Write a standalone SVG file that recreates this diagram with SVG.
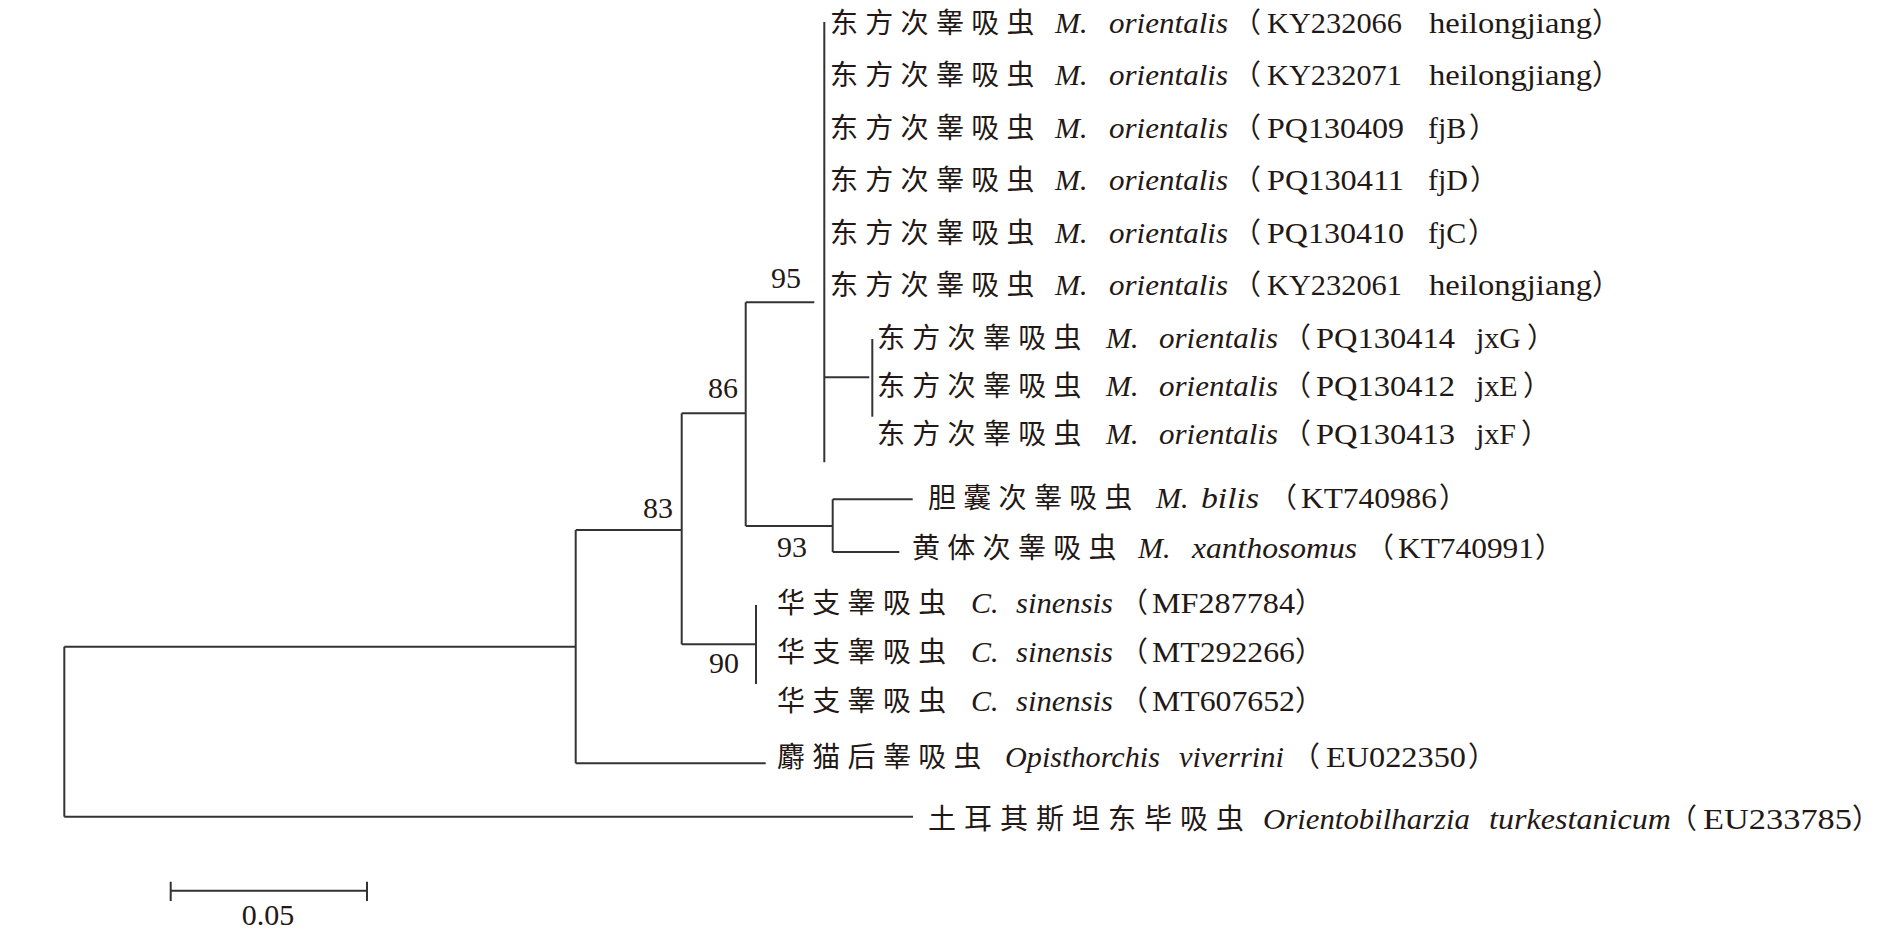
<svg xmlns="http://www.w3.org/2000/svg" width="1895" height="937" viewBox="0 0 1895 937">
<style>
.cn{font-family:"Noto Sans CJK SC","Noto Sans CJK TC",sans-serif;font-size:28px;letter-spacing:7.3px;fill:#231815}
.it{font-family:'Liberation Serif','Times New Roman',serif;font-style:italic;font-size:30px;fill:#231815}
.rm{font-family:'Liberation Serif','Times New Roman',serif;font-size:30px;fill:#231815}
.p{font-family:"Noto Sans CJK SC","Noto Sans CJK TC",sans-serif;font-size:28px;fill:#231815}
.bs{font-family:'Liberation Serif','Times New Roman',serif;font-size:30px;fill:#231815}
.br{stroke:#333;stroke-width:2;fill:none}
</style>
<rect width="1895" height="937" fill="#fff"/>
<g id="connectors" class="br">
<path d="M64.3,646.7V816.7"/>
<path d="M64.3,646.7H575.7"/>
<path d="M64.3,816.7H913"/>
<path d="M575.7,530V763.3"/>
<path d="M575.7,763.3H765.7"/>
<path d="M575.7,530H681.7"/>
<path d="M681.7,413.3V644.3"/>
<path d="M681.7,644.3H756"/>
<path d="M756,605V684"/>
<path d="M681.7,413.3H745.7"/>
<path d="M745.7,302.3V526"/>
<path d="M745.7,302.3H814.3"/>
<path d="M824.3,22V462.3"/>
<path d="M824.3,377.3H869.3"/>
<path d="M872.3,339V416.7"/>
<path d="M745.7,526H832.7"/>
<path d="M832.7,499.3V552"/>
<path d="M832.7,499.3H912.7"/>
<path d="M832.7,552H899.3"/>
</g>
<g id="bootstrap">
<text class="bs" x="771" y="288">95</text>
<text class="bs" x="708" y="398">86</text>
<text class="bs" x="643" y="518">83</text>
<text class="bs" x="777" y="557">93</text>
<text class="bs" x="709" y="673">90</text>
</g>
<g id="leaf-KY232066">
<text y="33"><tspan class="cn" x="830">东方次睾吸虫</tspan> <tspan class="it" x="1055">M.</tspan> <tspan class="it" x="1109" textLength="119" lengthAdjust="spacingAndGlyphs">orientalis</tspan><tspan class="p" x="1233">（</tspan><tspan class="rm" x="1267" textLength="135" lengthAdjust="spacingAndGlyphs">KY232066</tspan> <tspan class="rm" x="1429" textLength="163" lengthAdjust="spacingAndGlyphs">heilongjiang</tspan><tspan class="p" x="1592">）</tspan></text>
</g>
<g id="leaf-KY232071">
<text y="85.4"><tspan class="cn" x="830">东方次睾吸虫</tspan> <tspan class="it" x="1055">M.</tspan> <tspan class="it" x="1109" textLength="119" lengthAdjust="spacingAndGlyphs">orientalis</tspan><tspan class="p" x="1233">（</tspan><tspan class="rm" x="1267" textLength="135" lengthAdjust="spacingAndGlyphs">KY232071</tspan> <tspan class="rm" x="1429" textLength="163" lengthAdjust="spacingAndGlyphs">heilongjiang</tspan><tspan class="p" x="1592">）</tspan></text>
</g>
<g id="leaf-PQ130409">
<text y="137.8"><tspan class="cn" x="830">东方次睾吸虫</tspan> <tspan class="it" x="1055">M.</tspan> <tspan class="it" x="1109" textLength="119" lengthAdjust="spacingAndGlyphs">orientalis</tspan><tspan class="p" x="1233">（</tspan><tspan class="rm" x="1267" textLength="137" lengthAdjust="spacingAndGlyphs">PQ130409</tspan> <tspan class="rm" x="1428">fjB</tspan><tspan class="p" x="1469">）</tspan></text>
</g>
<g id="leaf-PQ130411">
<text y="190.2"><tspan class="cn" x="830">东方次睾吸虫</tspan> <tspan class="it" x="1055">M.</tspan> <tspan class="it" x="1109" textLength="119" lengthAdjust="spacingAndGlyphs">orientalis</tspan><tspan class="p" x="1233">（</tspan><tspan class="rm" x="1267" textLength="137" lengthAdjust="spacingAndGlyphs">PQ130411</tspan> <tspan class="rm" x="1428">fjD</tspan><tspan class="p" x="1470">）</tspan></text>
</g>
<g id="leaf-PQ130410">
<text y="242.6"><tspan class="cn" x="830">东方次睾吸虫</tspan> <tspan class="it" x="1055">M.</tspan> <tspan class="it" x="1109" textLength="119" lengthAdjust="spacingAndGlyphs">orientalis</tspan><tspan class="p" x="1233">（</tspan><tspan class="rm" x="1267" textLength="137" lengthAdjust="spacingAndGlyphs">PQ130410</tspan> <tspan class="rm" x="1428">fjC</tspan><tspan class="p" x="1468">）</tspan></text>
</g>
<g id="leaf-KY232061">
<text y="295"><tspan class="cn" x="830">东方次睾吸虫</tspan> <tspan class="it" x="1055">M.</tspan> <tspan class="it" x="1109" textLength="119" lengthAdjust="spacingAndGlyphs">orientalis</tspan><tspan class="p" x="1233">（</tspan><tspan class="rm" x="1267" textLength="135" lengthAdjust="spacingAndGlyphs">KY232061</tspan> <tspan class="rm" x="1429" textLength="163" lengthAdjust="spacingAndGlyphs">heilongjiang</tspan><tspan class="p" x="1592">）</tspan></text>
</g>
<g id="leaf-PQ130414">
<text y="348"><tspan class="cn" x="877">东方次睾吸虫</tspan> <tspan class="it" x="1106">M.</tspan> <tspan class="it" x="1159" textLength="119" lengthAdjust="spacingAndGlyphs">orientalis</tspan><tspan class="p" x="1283">（</tspan><tspan class="rm" x="1316" textLength="139" lengthAdjust="spacingAndGlyphs">PQ130414</tspan> <tspan class="rm" x="1476">jxG</tspan><tspan class="p" x="1527">）</tspan></text>
</g>
<g id="leaf-PQ130412">
<text y="396"><tspan class="cn" x="877">东方次睾吸虫</tspan> <tspan class="it" x="1106">M.</tspan> <tspan class="it" x="1159" textLength="119" lengthAdjust="spacingAndGlyphs">orientalis</tspan><tspan class="p" x="1283">（</tspan><tspan class="rm" x="1316" textLength="139" lengthAdjust="spacingAndGlyphs">PQ130412</tspan> <tspan class="rm" x="1476">jxE</tspan><tspan class="p" x="1523">）</tspan></text>
</g>
<g id="leaf-PQ130413">
<text y="444"><tspan class="cn" x="877">东方次睾吸虫</tspan> <tspan class="it" x="1106">M.</tspan> <tspan class="it" x="1159" textLength="119" lengthAdjust="spacingAndGlyphs">orientalis</tspan><tspan class="p" x="1283">（</tspan><tspan class="rm" x="1316" textLength="139" lengthAdjust="spacingAndGlyphs">PQ130413</tspan> <tspan class="rm" x="1476">jxF</tspan><tspan class="p" x="1521">）</tspan></text>
</g>
<g id="leaf-KT740986">
<text y="508"><tspan class="cn" x="928">胆囊次睾吸虫</tspan> <tspan class="it" x="1156">M.</tspan> <tspan class="it" x="1201" textLength="58" lengthAdjust="spacingAndGlyphs">bilis</tspan><tspan class="p" x="1269">（</tspan><tspan class="rm" x="1301" textLength="136" lengthAdjust="spacingAndGlyphs">KT740986</tspan><tspan class="p" x="1439">）</tspan></text>
</g>
<g id="leaf-KT740991">
<text y="558"><tspan class="cn" x="912">黄体次睾吸虫</tspan> <tspan class="it" x="1138">M.</tspan> <tspan class="it" x="1192" textLength="165" lengthAdjust="spacingAndGlyphs">xanthosomus</tspan><tspan class="p" x="1366">（</tspan><tspan class="rm" x="1398" textLength="136" lengthAdjust="spacingAndGlyphs">KT740991</tspan><tspan class="p" x="1535">）</tspan></text>
</g>
<g id="leaf-MF287784">
<text y="613"><tspan class="cn" x="777">华支睾吸虫</tspan> <tspan class="it" x="971">C.</tspan> <tspan class="it" x="1016" textLength="97" lengthAdjust="spacingAndGlyphs">sinensis</tspan><tspan class="p" x="1120">（</tspan><tspan class="rm" x="1152" textLength="143" lengthAdjust="spacingAndGlyphs">MF287784</tspan><tspan class="p" x="1295">）</tspan></text>
</g>
<g id="leaf-MT292266">
<text y="662"><tspan class="cn" x="777">华支睾吸虫</tspan> <tspan class="it" x="971">C.</tspan> <tspan class="it" x="1016" textLength="97" lengthAdjust="spacingAndGlyphs">sinensis</tspan><tspan class="p" x="1120">（</tspan><tspan class="rm" x="1152" textLength="143" lengthAdjust="spacingAndGlyphs">MT292266</tspan><tspan class="p" x="1295">）</tspan></text>
</g>
<g id="leaf-MT607652">
<text y="711"><tspan class="cn" x="777">华支睾吸虫</tspan> <tspan class="it" x="971">C.</tspan> <tspan class="it" x="1016" textLength="97" lengthAdjust="spacingAndGlyphs">sinensis</tspan><tspan class="p" x="1120">（</tspan><tspan class="rm" x="1152" textLength="143" lengthAdjust="spacingAndGlyphs">MT607652</tspan><tspan class="p" x="1295">）</tspan></text>
</g>
<g id="leaf-EU022350">
<text y="767"><tspan class="cn" x="777">麝猫后睾吸虫</tspan> <tspan class="it" x="1005" textLength="155" lengthAdjust="spacingAndGlyphs">Opisthorchis</tspan> <tspan class="it" x="1179" textLength="105" lengthAdjust="spacingAndGlyphs">viverrini</tspan><tspan class="p" x="1292">（</tspan><tspan class="rm" x="1326" textLength="140" lengthAdjust="spacingAndGlyphs">EU022350</tspan><tspan class="p" x="1468">）</tspan></text>
</g>
<g id="leaf-EU233785">
<text y="829"><tspan class="cn" x="928" style="letter-spacing:8px">土耳其斯坦东毕吸虫</tspan> <tspan class="it" x="1263" textLength="207" lengthAdjust="spacingAndGlyphs">Orientobilharzia</tspan> <tspan class="it" x="1489" textLength="182" lengthAdjust="spacingAndGlyphs">turkestanicum</tspan><tspan class="p" x="1669">（</tspan><tspan class="rm" x="1703" textLength="149" lengthAdjust="spacingAndGlyphs">EU233785</tspan><tspan class="p" x="1852">）</tspan></text>
</g>
<g id="scale-bar">
<path class="br" d="M170.7,890.7H367M170.7,881.7V901M367,881.7V901"/>
<text class="bs" x="268" y="925" text-anchor="middle">0.05</text>
</g>
</svg>
